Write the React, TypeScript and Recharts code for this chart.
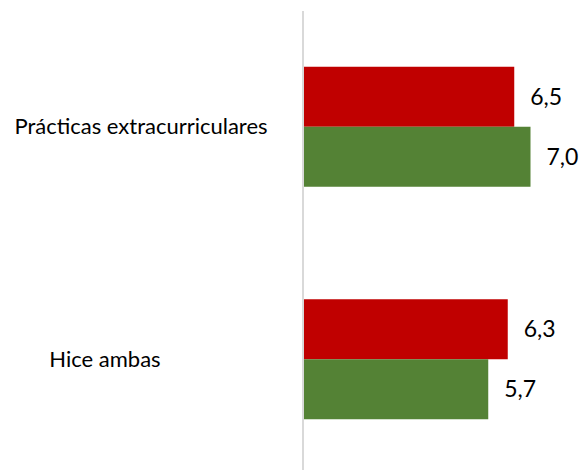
import React from "react";
import { Bar, BarChart, LabelList, XAxis, YAxis } from "recharts";

// categorías y valores
const categories = ["Prácticas extracurriculares", "Hice ambas"];
const redValues = [6.5, 6.3];
const greenValues = [7.0, 5.7];

const data = categories.map((name, i) => ({
  name,
  red: redValues[i],
  green: greenValues[i],
}));

const FONT = "Lato, 'Open Sans', sans-serif";
const labelCenters = [141, 105]; // centro horizontal de cada etiqueta

const CategoryTick = (props: any) => {
  const { y, payload, index } = props;
  return (
    <text
      x={labelCenters[index] ?? 140}
      y={y}
      dy={7}
      textAnchor="middle"
      fontFamily={FONT}
      fontSize={22}
      fill="#000000"
    >
      {payload.value}
    </text>
  );
};

const fmt = (v: any) => Number(v).toFixed(1).replace(".", ",");

export default function App() {
  return (
    <div
      style={{
        position: "absolute",
        left: 0,
        top: 0,
        width: 585,
        height: 470,
        overflow: "hidden",
      }}
    >
      <BarChart
        width={585}
        height={480}
        data={data}
        layout="vertical"
        margin={{ top: 11, right: 22, bottom: 4, left: 0 }}
        barCategoryGap="24%"
        barGap={0}
        style={{ overflow: "visible" }}
      >
        <XAxis type="number" domain={[0, 8]} hide />
        <YAxis
          type="category"
          dataKey="name"
          width={303}
          axisLine={{ stroke: "#D9D9D9", strokeWidth: 2 }}
          tickLine={false}
          tick={<CategoryTick />}
        />
        <Bar dataKey="red" fill="#C00000" isAnimationActive={false}>
          <LabelList
            dataKey="red"
            position="right"
            offset={16}
            formatter={fmt}
            fontFamily={FONT}
            fontSize={23}
            fill="#000000"
          />
        </Bar>
        <Bar dataKey="green" fill="#548235" isAnimationActive={false}>
          <LabelList
            dataKey="green"
            position="right"
            offset={16}
            formatter={fmt}
            fontFamily={FONT}
            fontSize={23}
            fill="#000000"
          />
        </Bar>
      </BarChart>
    </div>
  );
}
